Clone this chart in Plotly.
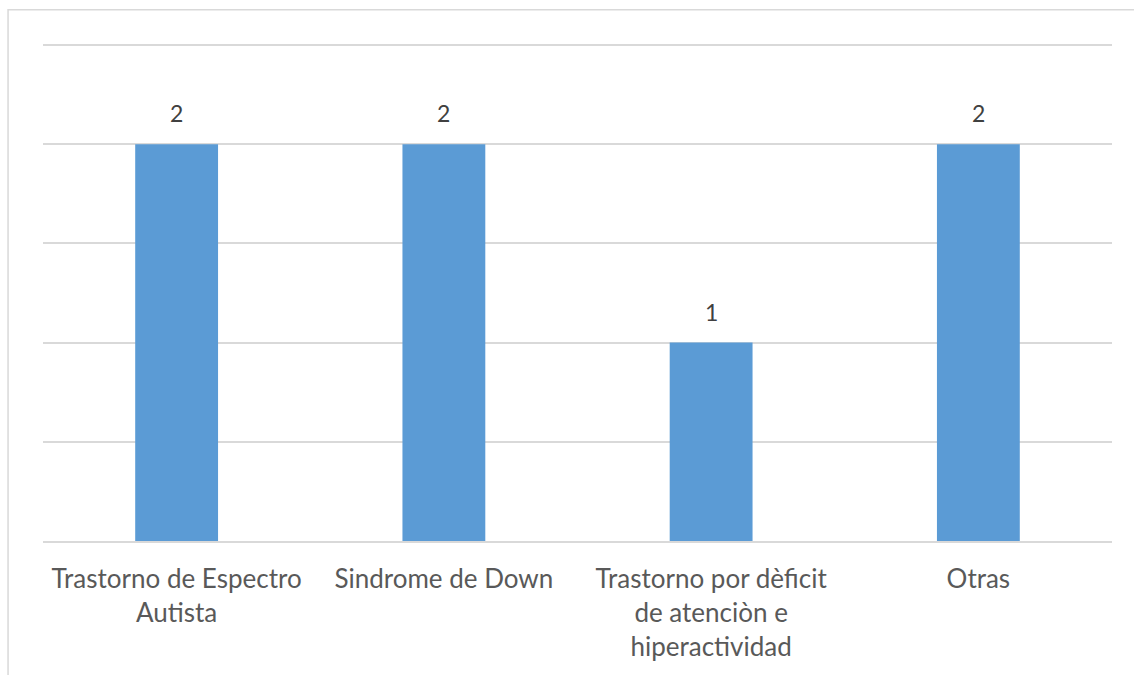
import plotly.graph_objects as go

categories = ["Trastorno de Espectro<br>Autista", "Sindrome de Down",
              "Trastorno por dèficit<br>de atenciòn e<br>hiperactividad", "Otras"]
values = [2, 2, 1, 2]
y_ticks = [0, 0.5, 1, 1.5, 2, 2.5]

FONT = "Lato"

fig = go.Figure(go.Bar(
    x=categories, y=values,
    marker=dict(color="#5B9BD5", line=dict(width=0)),
    width=0.31,
))

for c, v in zip(categories, values):
    fig.add_annotation(x=c, y=v, text=str(v), showarrow=False,
                       yanchor="bottom", yshift=15,
                       font=dict(family=FONT, size=23, color="#404040"))

fig.add_shape(type="rect", xref="paper", yref="paper",
              x0=-0.0327, x1=1.2, y0=-0.4, y1=1.0626,
              line=dict(color="#D9D9D9", width=1.5), fillcolor="rgba(0,0,0,0)", layer="below")

fig.update_layout(
    width=1134, height=675,
    margin=dict(l=43, r=22, t=41, b=134),
    paper_bgcolor="white", plot_bgcolor="white",
    showlegend=False,
    bargap=0.69,
    xaxis=dict(showgrid=False, showline=True, linecolor="#D9D9D9", linewidth=1.5,
               ticks="outside", ticklen=14, tickcolor="rgba(0,0,0,0)",
               tickfont=dict(family=FONT, size=26, color="#595959"),
               zeroline=False),
    yaxis=dict(range=[0, 2.52], tickvals=y_ticks, showticklabels=False,
               showgrid=True, gridcolor="#D9D9D9", gridwidth=1.5,
               zeroline=False, showline=False),
)

fig.write_html("out.html", config={"displayModeBar": False},
               post_script="document.body.style.margin='0px';")
